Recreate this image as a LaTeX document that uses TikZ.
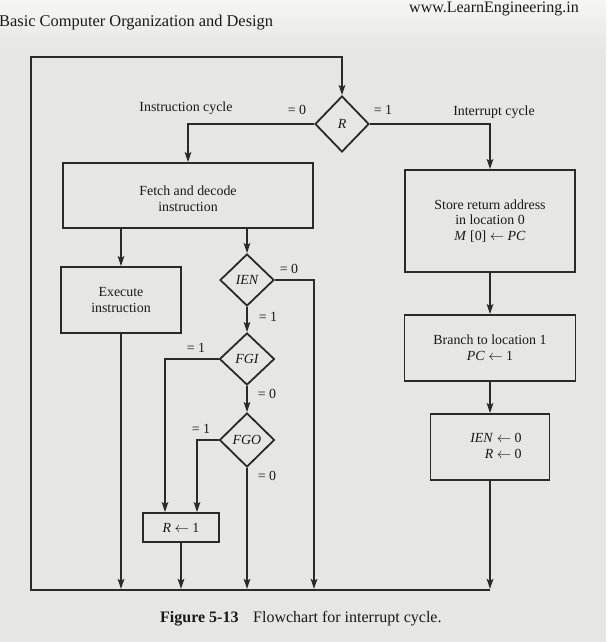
\documentclass[tikz,border=0pt]{standalone}
\usepackage{fontspec}
\setmainfont{Liberation Serif}
\usetikzlibrary{shapes.geometric,arrows.meta}
\definecolor{bgc}{RGB}{230,230,228}
\definecolor{bgtop}{RGB}{246,246,245}
\definecolor{ink}{RGB}{42,42,42}
\definecolor{txtc}{RGB}{25,25,25}
\newcommand\dgfont{\fontsize{13.9}{15.6}\selectfont}
\newcommand\hdfont{\fontsize{16}{18}\selectfont}
\begin{document}
\begin{tikzpicture}[x=1pt,y=-1pt,
  box/.style={draw=ink,line width=1.8pt,rectangle,inner sep=0pt,align=center,font=\dgfont,text=txtc},
  dia/.style={draw=ink,line width=1.8pt,diamond,inner sep=0pt,font=\dgfont\itshape,text=txtc},
  conn/.style={draw=ink,line width=2.5pt},
  arr/.style={conn,-{Stealth[length=10pt,width=6.5pt,inset=2pt]}},
  txt/.style={inner sep=0pt,font=\dgfont,text=txtc,align=center},
  lbl/.style={inner sep=0pt,font=\dgfont,text=txtc},
  head/.style={inner sep=0pt,font=\hdfont,text=txtc}
]
\useasboundingbox (0,0) rectangle (606,642);
\fill[bgc] (0,0) rectangle (606,642);
\shade[top color=bgtop,bottom color=bgc] (0,0) rectangle (606,50);

% header and caption
\node[head,anchor=base west] (url) at (409,13) {www.LearnEngineering.in};
\node[head,anchor=base west,font=\fontsize{16.4}{18}\selectfont] (book) at (-1,27) {Basic Computer Organization and Design};
\node[head,anchor=base west,font=\hdfont\bfseries] (fig) at (160,622) {Figure 5-13};
\node[head,anchor=base west] (figcap) at (253,622) {Flowchart for interrupt cycle.};

% nodes
\node[dia,minimum width=54pt,minimum height=56pt] (R) at (342,124) {R};
\node[box,minimum width=250pt,minimum height=65pt] (fetch) at (188,195.5) {};
\node[txt] (fetchtxt) at (188,199) {Fetch and decode\\instruction};
\node[box,minimum width=120pt,minimum height=66pt] (exec) at (121,300) {Execute\\instruction};
\node[dia,minimum width=54pt,minimum height=52pt] (ien) at (247,280) {IEN};
\node[dia,minimum width=55pt,minimum height=52pt] (fgi) at (247,359) {FGI};
\node[dia,minimum width=55pt,minimum height=54pt] (fgo) at (247,440) {FGO};
\node[box,minimum width=76pt,minimum height=29pt] (r1) at (181,527.5) {\textit{R} $\leftarrow$ 1};
\node[box,minimum width=170pt,minimum height=102pt] (store) at (490,221) {Store return address\\in location 0\\\textit{M} [0] $\leftarrow$ \textit{PC}};
\node[box,minimum width=171pt,minimum height=66pt] (branch) at (490,348) {Branch to location 1\\\textit{PC} $\leftarrow$ 1};
\node[box,minimum width=119pt,minimum height=66pt] (ienbox) at (490,447) {};
\node[txt,align=right] (ienboxtxt) at (496,446) {\textit{IEN} $\leftarrow$ 0\\\textit{R} $\leftarrow$ 0};

% labels
\node[lbl] (lic) at (186,108) {Instruction cycle};
\node[lbl] (lr0) at (297,110) {= 0};
\node[lbl] (lr1) at (383,110) {= 1};
\node[lbl] (lirc) at (494,112) {Interrupt cycle};
\node[lbl] (lien0) at (289,269) {= 0};
\node[lbl] (lien1) at (268,317) {= 1};
\node[lbl] (lfgi1) at (196,348) {= 1};
\node[lbl] (lfgi0) at (267,394) {= 0};
\node[lbl] (lfgo1) at (201,429) {= 1};
\node[lbl] (lfgo0) at (267,476) {= 0};

% helper coordinates
\coordinate (bl) at (31,590);
\coordinate (br) at (490,590);
\coordinate (tl) at (31,57);
\coordinate (bot) at (0,589);
\coordinate (ienr) at (314,589);
\coordinate (fgidrop) at (165,0);
\coordinate (fgodrop) at (197,0);

% connectors
\draw[arr] (br) -- (bl) -- (tl) -| (R.north);
\draw[arr] (R.west) -| (fetch.north);
\draw[arr] (R.east) -| (store.north);
\draw[arr] (store.south) -- (branch.north);
\draw[arr] (branch.south) -- (ienbox.north);
\draw[arr] (ienbox.south) -- (ienbox.south |- bot);
\draw[arr] (fetch.south -| exec.north) -- (exec.north);
\draw[arr] (fetch.south -| ien.north) -- (ien.north);
\draw[arr] (exec.south) -- (exec.south |- bot);
\draw[arr] (ien.east) -| (ienr);
\draw[arr] (ien.south) -- (fgi.north);
\draw[arr] (fgi.west) -| (fgidrop |- r1.north);
\draw[arr] (fgi.south) -- (fgo.north);
\draw[arr] (fgo.west) -| (fgodrop |- r1.north);
\draw[arr] (fgo.south) -- (fgo.south |- bot);
\draw[arr] (r1.south) -- (r1.south |- bot);
\end{tikzpicture}
\end{document}
